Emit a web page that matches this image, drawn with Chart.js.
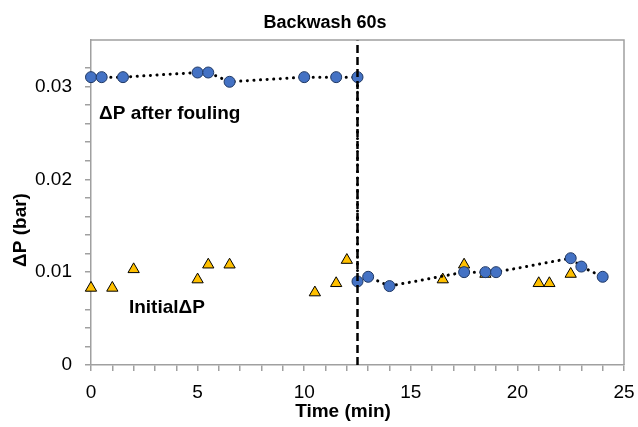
<!DOCTYPE html>
<html>
<head>
<meta charset="utf-8">
<script src="https://cdn.jsdelivr.net/npm/chart.js@4/dist/chart.umd.min.js"></script>
<style>
  html, body { margin: 0; padding: 0; background: #fff; }
  #wrap { width: 638px; height: 427px; }
</style>
</head>
<body>
<div id="wrap"><canvas id="chart" width="638" height="427"></canvas></div>
<script>
// Datos
const foulingTime = [0, 0.5, 1.5, 5, 5.5, 6.5, 10, 11.5, 12.5, 12.5, 13, 14, 17.5, 18.5, 19, 22.5, 23, 24];
const foulingDP = [0.031, 0.031, 0.031, 0.0315, 0.0315, 0.0305, 0.031, 0.031, 0.031,
                   0.009, 0.0095, 0.0085, 0.01, 0.01, 0.01, 0.0115, 0.0106, 0.0095];
const initialTime = [0, 1, 2, 5, 5.5, 6.5, 10.5, 11.5, 12, 16.5, 17.5, 18.5, 21, 21.5, 22.5];
const initialDP = [0.0083, 0.0083, 0.0103, 0.0092, 0.0108, 0.0108, 0.0078, 0.0088, 0.0113,
                   0.0092, 0.0108, 0.0098, 0.0088, 0.0088, 0.0098];
const backwashTime = 12.5;
const yMax = 0.035;

// Textos
const chartTitle = "Backwash 60s";
const xTitle = "Time (min)";
const yTitle = "\u0394P (bar)";
const noteTexts = ["\u0394P after fouling", "Initial\u0394P"];
const noteX = [0.38, 1.78];
const noteY = [0.0271, 0.0062];

const FONT = '"Liberation Sans", Arial, sans-serif';
const AXIS = "#a0a0a0";

const toPoints = (xs, ys) => xs.map((x, i) => ({ x: x, y: ys[i] }));

// Marco y textos
const framePlugin = {
  id: "frame",
  afterDraw(chart) {
    const { ctx, chartArea: a, scales } = chart;
    ctx.save();
    ctx.strokeStyle = AXIS;
    ctx.lineWidth = 1.5;
    ctx.beginPath();
    ctx.moveTo(a.left, a.top);
    ctx.lineTo(a.right, a.top);
    ctx.lineTo(a.right, a.bottom);
    ctx.stroke();

    ctx.fillStyle = "#000";
    ctx.textBaseline = "middle";
    ctx.textAlign = "center";
    ctx.font = "bold 18px " + FONT;
    ctx.fillText(chartTitle, 325, 23);
    ctx.font = "bold 19px " + FONT;
    ctx.fillText(xTitle, 343, 412);
    ctx.save();
    ctx.translate(21, 230);
    ctx.rotate(-Math.PI / 2);
    ctx.fillText(yTitle, 0, 0);
    ctx.restore();

    ctx.textAlign = "left";
    ctx.font = "bold 19px " + FONT;
    noteTexts.forEach((t, i) => {
      ctx.fillText(t, scales.x.getPixelForValue(noteX[i]), scales.y.getPixelForValue(noteY[i]));
    });
    ctx.restore();
  },
};

new Chart(document.getElementById("chart"), {
  type: "scatter",
  data: {
    datasets: [
      {
        label: "Backwash",
        type: "line",
        data: [{ x: backwashTime, y: 0 }, { x: backwashTime, y: yMax }],
        borderColor: "#000",
        borderWidth: 2.5,
        borderDash: [8, 4],
        pointRadius: 0,
        fill: false,
        order: 0,
      },
      {
        label: "\u0394P after fouling",
        type: "line",
        data: toPoints(foulingTime, foulingDP),
        borderColor: "#000",
        borderWidth: 3,
        borderDash: [0.1, 6.5],
        borderCapStyle: "round",
        pointStyle: "circle",
        pointRadius: 5.5,
        pointBackgroundColor: "#4472c4",
        pointBorderColor: "#1f3864",
        pointBorderWidth: 1,
        fill: false,
        tension: 0,
        clip: false,
        order: 1,
      },
      {
        label: "Initial\u0394P",
        data: toPoints(initialTime, initialDP),
        pointStyle: "triangle",
        pointRadius: 6.5,
        pointBackgroundColor: "#ffc000",
        pointBorderColor: "#000",
        pointBorderWidth: 1,
        showLine: false,
        clip: false,
        order: 2,
      },
    ],
  },
  options: {
    responsive: false,
    animation: false,
    layout: { autoPadding: false, padding: { left: 0, top: 40, right: 14, bottom: 0 } },
    plugins: { legend: { display: false }, tooltip: { enabled: false } },
    scales: {
      x: {
        type: "linear",
        min: 0,
        max: 25,
        afterFit: (s) => { s.height = 62; s.paddingLeft = 0; s.paddingRight = 0; },
        ticks: {
          stepSize: 1,
          autoSkip: false,
          maxRotation: 0,
          padding: 10,
          color: "#000",
          font: { family: FONT, size: 19 },
          callback: (v) => (v % 5 === 0 ? String(v) : ""),
        },
        grid: { drawOnChartArea: false, drawTicks: true, tickLength: 6, color: AXIS, lineWidth: 1.5 },
        border: { display: true, color: AXIS, width: 1.5 },
      },
      y: {
        min: 0,
        max: yMax,
        afterFit: (s) => { s.width = 91; s.paddingTop = 0; s.paddingBottom = 0; },
        afterBuildTicks: (s) => { s.ticks = s.ticks.filter((t) => t.value < yMax - 1e-6); },
        ticks: {
          stepSize: 0.002,
          autoSkip: false,
          padding: 13,
          color: "#000",
          font: { family: FONT, size: 19 },
          callback: (v) => {
            const k = v * 100;
            if (Math.abs(k - Math.round(k)) > 1e-6) return "";
            return Math.round(k) === 0 ? "0" : (Math.round(k) / 100).toFixed(2);
          },
        },
        grid: { drawOnChartArea: false, drawTicks: true, tickLength: 6, color: AXIS, lineWidth: 1.5 },
        border: { display: true, color: AXIS, width: 1.5 },
      },
    },
  },
  plugins: [framePlugin],
});
</script>
</body>
</html>
